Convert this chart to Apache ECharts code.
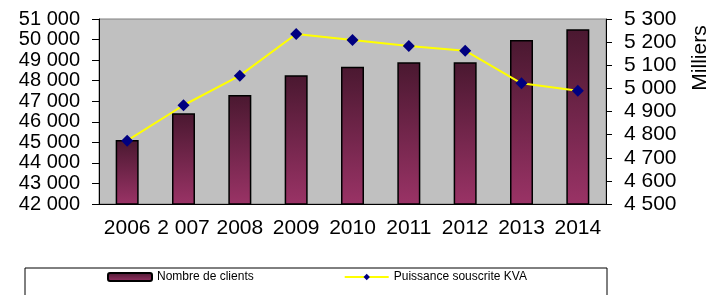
<!DOCTYPE html>
<html>
<head>
<meta charset="utf-8">
<script src="https://cdn.jsdelivr.net/npm/echarts@6/dist/echarts.min.js"></script>
<style>
  html, body { margin: 0; padding: 0; background: #fff; }
  #chart { width: 710px; height: 295px; }
</style>
</head>
<body>
<div id="chart"></div>
<script>
// données
var years = ['2006', '2 007', '2008', '2009', '2010', '2011', '2012', '2013', '2014']
var clients = [45110, 46410, 47300, 48260, 48680, 48890, 48900, 49980, 50500]
var puissance = [4774, 4927, 5055, 5235, 5209, 5183, 5163, 5022, 4990]

var leftTicks = { min: 42000, max: 51000, step: 1000 }
var rightTicks = { min: 4500, max: 5300, step: 100 }

var font = "'Liberation Sans', Arial, sans-serif"

// séparateur de milliers avec espace
function fmt(v) {
  return String(v).replace(/\B(?=(\d{3})+(?!\d))/g, ' ')
}

var chart = echarts.init(document.getElementById('chart'))

chart.setOption({
  animation: false,
  textStyle: { fontFamily: font },
  grid: {
    left: 99, right: 104, top: 19, bottom: 91,
    show: true,
    backgroundColor: '#c0c0c0',
    borderColor: '#808080',
    borderWidth: 1
  },
  legend: {
    left: 107,
    top: 271,
    padding: 0,
    itemWidth: 44,
    itemHeight: 8,
    itemGap: 90,
    textStyle: { fontFamily: font, fontSize: 12, color: '#000' },
    data: ['Nombre de clients', 'Puissance souscrite KVA']
  },
  graphic: [
    {
      type: 'rect',
      shape: { x: 25, y: 268, width: 582, height: 40 },
      style: { fill: '#fff', stroke: '#000', lineWidth: 1 },
      z: -1
    },
    {
      type: 'text',
      x: 700, y: 58,
      rotation: Math.PI / 2,
      style: {
        text: 'Milliers',
        font: '21px ' + font,
        fill: '#000',
        align: 'center',
        verticalAlign: 'middle'
      }
    }
  ],
  xAxis: {
    type: 'category',
    data: years,
    axisLine: { lineStyle: { color: '#000' } },
    axisTick: { length: 6, lineStyle: { color: '#000' } },
    axisLabel: { color: '#000', fontSize: 21, margin: 14, interval: 0 }
  },
  yAxis: [
    {
      type: 'value',
      min: leftTicks.min, max: leftTicks.max, interval: leftTicks.step,
      splitLine: { show: false },
      axisLine: { show: true, lineStyle: { color: '#000' } },
      axisTick: { show: true, length: 7, lineStyle: { color: '#000' } },
      axisLabel: {
        color: '#000', fontSize: 20, lineHeight: 17, margin: 19, formatter: fmt,
        showMinLabel: true, showMaxLabel: true, hideOverlap: false
      }
    },
    {
      type: 'value',
      position: 'right',
      min: rightTicks.min, max: rightTicks.max, interval: rightTicks.step,
      splitLine: { show: false },
      axisLine: { show: true, lineStyle: { color: '#000' } },
      axisTick: { show: true, length: 6, lineStyle: { color: '#000' } },
      axisLabel: {
        color: '#000', fontSize: 21, lineHeight: 17, margin: 18, formatter: fmt,
        showMinLabel: true, showMaxLabel: true, hideOverlap: false
      }
    }
  ],
  series: [
    {
      name: 'Nombre de clients',
      type: 'bar',
      yAxisIndex: 0,
      data: clients,
      barWidth: 23,
      itemStyle: {
        color: new echarts.graphic.LinearGradient(0, 0, 0, 1, [
          { offset: 0, color: '#4a1830' },
          { offset: 1, color: '#9a3366' }
        ]),
        borderColor: '#000',
        borderWidth: 1.5
      }
    },
    {
      name: 'Puissance souscrite KVA',
      type: 'line',
      yAxisIndex: 1,
      data: puissance,
      symbol: 'diamond',
      symbolSize: 12,
      lineStyle: { color: '#ffff00', width: 2 },
      itemStyle: { color: '#000080' }
    }
  ]
})
</script>
</body>
</html>
